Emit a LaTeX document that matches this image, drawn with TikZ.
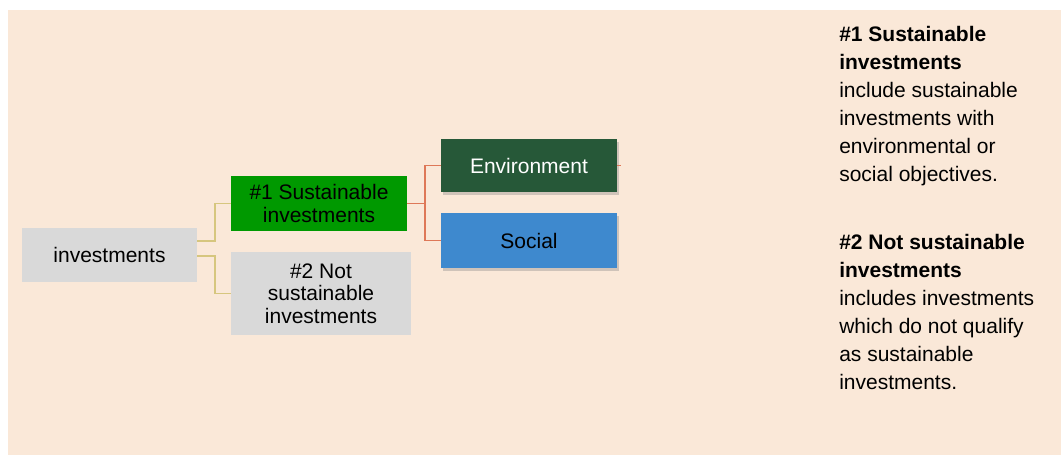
\documentclass[tikz,border=0pt]{standalone}
\usepackage{fontspec}
\setmainfont{Liberation Sans}
\usetikzlibrary{calc,shadows}

\definecolor{bgpeach}{RGB}{250,232,216}
\definecolor{boxgray}{RGB}{217,217,217}
\definecolor{susgreen}{RGB}{0,153,0}
\definecolor{envgreen}{RGB}{38,88,56}
\definecolor{socblue}{RGB}{62,137,206}
\definecolor{tanline}{RGB}{214,198,126}
\definecolor{redline}{RGB}{222,120,88}

\tikzset{
  box/.style={draw=none, align=center, inner sep=0pt,
    font=\fontsize{15.75}{17}\selectfont},
  shadowbox/.style={box, drop shadow={opacity=0.35, shadow xshift=1.5pt, shadow yshift=-2.5pt}},
  tanlink/.style={draw=tanline, line width=1.4pt},
  redlink/.style={draw=redline, line width=1.4pt}
}

\begin{document}
\begin{tikzpicture}[x=0.75pt, y=-0.75pt]

\useasboundingbox (0,0) rectangle (1061,455);
\fill[bgpeach] (8,10) rectangle (1061,455);

% tree
\node[box, fill=boxgray, minimum width=131.25pt, minimum height=40.5pt] (inv) at (109.5,255) {investments};
\node[box, fill=susgreen, minimum width=132pt, minimum height=41.25pt] (sus) at (319,203.5) {\#1 Sustainable\\investments};
\node[box, fill=boxgray, minimum width=135pt, minimum height=62.25pt] (notsus) at (321,293.5) {\#2 Not\\sustainable\\investments};
\node[shadowbox, fill=envgreen, text=white, minimum width=132pt, minimum height=39.75pt] (env) at (529,165.5) {Environment};
\node[shadowbox, fill=socblue, minimum width=132pt, minimum height=41.25pt] (soc) at (529,240.5) {Social};

\draw[tanlink] ([yshift=10.5pt]inv.east) -- ++(18,0) |- (sus.west);
\draw[tanlink] ([yshift=-0.75pt]inv.east) -- ++(18,0) |- (notsus.west);

\draw[redlink] (sus.east) -- ++(18,0) |- (env.west);
\draw[redlink] (sus.east) -- ++(18,0) |- (soc.west);
\draw[redlink] (env.east) -- ++(4,0);

% legend
\node[anchor=north west, align=left, inner sep=0pt,
      font=\fontsize{15.75}{21}\selectfont] (legend) at (839,26)
  {\textbf{\#1 Sustainable}\\ \textbf{investments}\\ include sustainable\\ investments with\\ environmental or\\ social objectives.\\[30pt]
   \textbf{\#2 Not sustainable}\\ \textbf{investments}\\ includes investments\\ which do not qualify\\ as sustainable\\ investments.};

\end{tikzpicture}
\end{document}
